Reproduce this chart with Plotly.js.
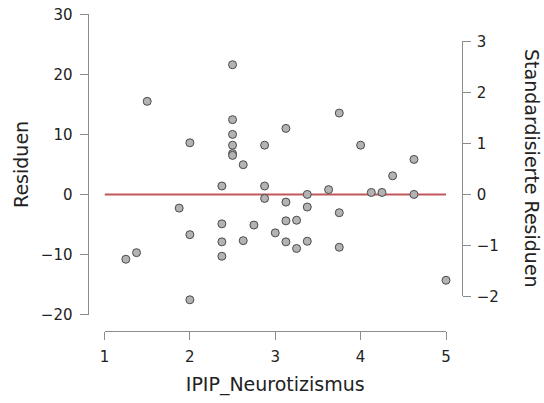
<!DOCTYPE html>
<html>
<head>
<meta charset="utf-8">
<script src="https://cdn.plot.ly/plotly-3.0.1.min.js"></script>
<style>
  html, body { margin: 0; padding: 0; background: #ffffff; }
  #chart { width: 544px; height: 403px; }
</style>
</head>
<body>
<div id="chart"></div>
<script>
// Residuals of the regression plotted against the predictor
const neuroticism = [
  2.5, 1.5, 2.5, 3.125, 2, 2.5, 2.5, 2.875, 2.5, 2.5, 2.625,
  3.75, 4, 4.625, 4.375, 2.375, 2.875, 2.875, 3.125, 1.875, 2.375, 2.75,
  3.125, 2, 3, 2.375, 2.625, 3.125, 1.375, 1.25, 2.375, 2,
  3.375, 3.625, 4.125, 4.25, 4.625, 3.25, 3.375, 3.75, 3.25, 3.375, 3.75, 5
];
const residuals = [
  21.6, 15.5, 12.45, 11.0, 8.6, 10.0, 8.2, 8.2, 6.8, 6.5, 4.95,
  13.55, 8.2, 5.83, 3.1, 1.4, 1.4, -0.67, -1.28, -2.28, -4.9, -5.1,
  -4.4, -6.7, -6.4, -7.9, -7.7, -7.9, -9.7, -10.8, -10.3, -17.55,
  0.0, 0.8, 0.33, 0.33, 0.0, -4.3, -2.1, -3.05, -9.0, -7.8, -8.8, -14.3
];

// Zero reference line across the predictor range
const zeroLineX = [1, 5];
const zeroLineY = [0, 0];

const xTicks = [1, 2, 3, 4, 5];
const residualTicks = [-20, -10, 0, 10, 20, 30];
const standardizedTicks = [-2, -1, 0, 1, 2, 3];

const W = 544, H = 403;
const px = v => v / W;             // horizontal pixel -> paper fraction
const py = v => (H - v) / H;       // vertical pixel (from top) -> paper fraction

const axisGrey = '#8c8c8c';
const textCol = '#222222';
const fontFamily = '"DejaVu Sans", Verdana, sans-serif';

const traces = [
  {
    x: zeroLineX, y: zeroLineY,
    type: 'scatter', mode: 'lines',
    line: { color: '#c0585a', width: 2 },
    hoverinfo: 'skip', showlegend: false,
    xaxis: 'x', yaxis: 'y'
  },
  {
    x: neuroticism, y: residuals,
    type: 'scatter', mode: 'markers',
    marker: { size: 8, color: '#b3b3b3', line: { color: '#4a4a4a', width: 1 } },
    cliponaxis: false, showlegend: false,
    xaxis: 'x', yaxis: 'y'
  },
  {
    // carries the standardized-residual scale on the right
    x: [], y: [],
    type: 'scatter', mode: 'markers',
    hoverinfo: 'skip', showlegend: false,
    xaxis: 'x', yaxis: 'y2'
  }
];

const commonAxis = {
  showgrid: false, zeroline: false,
  showline: true, linecolor: axisGrey, linewidth: 1,
  ticks: 'outside', ticklen: 8, tickwidth: 1, tickcolor: axisGrey,
  tickfont: { family: fontFamily, size: 15, color: textCol },
  fixedrange: true, automargin: false
};

const layout = {
  width: W, height: H,
  margin: { l: 0, r: 0, t: 0, b: 0 },
  paper_bgcolor: '#ffffff', plot_bgcolor: 'rgba(0,0,0,0)',
  showlegend: false,
  xaxis: Object.assign({}, commonAxis, {
    domain: [px(104.5), px(446)],
    range: [1, 5],
    tickvals: xTicks,
    anchor: 'free', position: py(331),
    ticklabelstandoff: 4,
    title: { text: 'IPIP_Neurotizismus', standoff: 12,
             font: { family: fontFamily, size: 19, color: textCol } }
  }),
  yaxis: Object.assign({}, commonAxis, {
    domain: [py(314.5), py(14.3)],
    range: [-20, 30],
    tickvals: residualTicks,
    anchor: 'free', position: px(87.5),
    ticklabelstandoff: 4,
    title: { text: 'Residuen', standoff: 6,
             font: { family: fontFamily, size: 19, color: textCol } }
  }),
  yaxis2: Object.assign({}, commonAxis, {
    domain: [py(296.4), py(41.4)],
    range: [-2, 3],
    tickvals: standardizedTicks,
    side: 'right',
    anchor: 'free', position: px(461.7),
    ticklabelstandoff: 3
  }),
  annotations: [
    {
      text: 'Standardisierte Residuen',
      xref: 'paper', yref: 'paper',
      x: px(532), y: py(168),
      xanchor: 'center', yanchor: 'middle',
      textangle: 90, showarrow: false,
      font: { family: fontFamily, size: 19, color: textCol }
    }
  ]
};

Plotly.newPlot('chart', traces, layout, { displayModeBar: false, staticPlot: true });
</script>
</body>
</html>
